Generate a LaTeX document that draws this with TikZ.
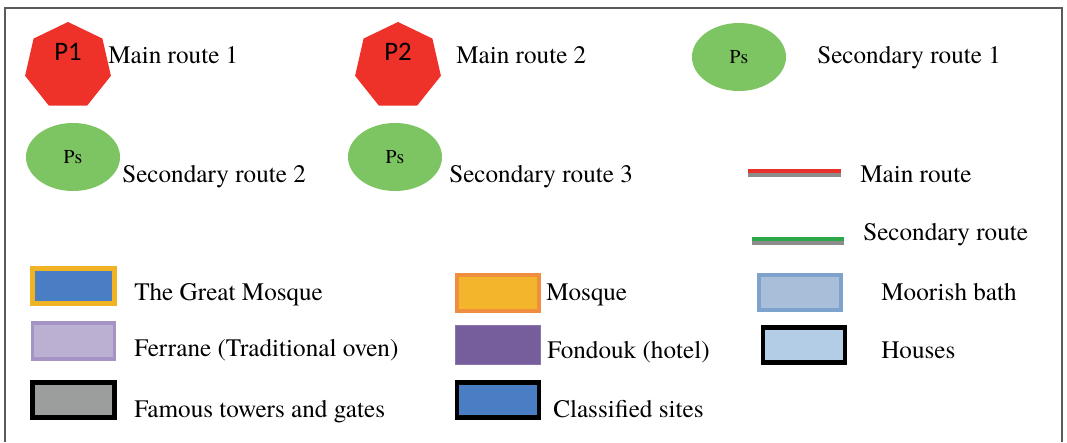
\documentclass[tikz,border=0pt]{standalone}
\usepackage{fontspec}
\setmainfont{TeX Gyre Termes}
\newfontfamily\calibrifont{Carlito}
\usepackage{xcolor}
\usetikzlibrary{shapes.geometric}
\definecolor{routered}{HTML}{EE3129}
\definecolor{psgreen}{HTML}{7DC462}
\definecolor{linered}{HTML}{E8312A}
\definecolor{linegreen}{HTML}{2BA84A}
\definecolor{shadowgray}{HTML}{8C8C8C}
\definecolor{framegray}{HTML}{5A5A5A}
\definecolor{greatblue}{HTML}{4A7EC4}
\definecolor{greatgold}{HTML}{F0B323}
\definecolor{ferranefill}{HTML}{BCB0D2}
\definecolor{ferraneline}{HTML}{A593C6}
\definecolor{towergray}{HTML}{9C9E9E}
\definecolor{mosquefill}{HTML}{F2B52C}
\definecolor{mosqueline}{HTML}{EE8E3E}
\definecolor{fondoukfill}{HTML}{765E9C}
\definecolor{fondoukline}{HTML}{8A75AD}
\definecolor{bathfill}{HTML}{A9BFD9}
\definecolor{bathline}{HTML}{7DA2CB}
\definecolor{housefill}{HTML}{B4CDE7}

\begin{document}
\begin{tikzpicture}[x=0.025cm, y=-0.025cm,
  legtext/.style={anchor=base west, inner sep=0pt, font=\fontsize{17.9}{20}\selectfont},
  heptagon/.style={regular polygon, regular polygon sides=7, fill=routered, minimum size=2.2cm, inner sep=0pt},
  plabel/.style={inner sep=0pt, font=\calibrifont\fontsize{19}{21}\selectfont},
  psnode/.style={ellipse, fill=psgreen, minimum width=2.35cm, minimum height=1.7cm, inner sep=0pt, font=\fontsize{14}{16}\selectfont},
  swatch/.style={rectangle, inner sep=0pt, minimum width=2.05cm, minimum height=0.88cm},
  routeline/.style={line width=2.9pt},
]
  \useasboundingbox (0,0) rectangle (1067,442);
  \draw[framegray, line width=1.4pt] (5,442) -- (5,8) -- (1062,8) -- (1062,442);
  \node[heptagon] (hept1) at (68,66) {};
  \node[plabel] (p1) at ([yshift=0.36cm]hept1.center) {P1};
  \node[legtext] (main1) at (108,63) {Main route 1};
  \node[heptagon] (hept2) at (398,66) {};
  \node[plabel] (p2) at ([yshift=0.36cm]hept2.center) {P2};
  \node[legtext] (main2) at (456,63) {Main route 2};
  \node[psnode] (ps1) at (739,57) {Ps};
  \node[legtext] (sec1) at (817,63) {Secondary route 1};
  \node[psnode] (ps2) at (73,157) {Ps};
  \node[legtext] (sec2) at (122,182) {Secondary route 2};
  \node[psnode] (ps3) at (395,157) {Ps};
  \node[legtext] (sec3) at (449,182) {Secondary route 3};
  \draw[routeline, shadowgray] (748,174.5) -- (841,174.5);
  \draw[routeline, linered] (748,171) -- (841,171);
  \node[legtext] (mainline) at (860,182) {Main route};
  \draw[routeline, shadowgray] (752,242.5) -- (844,242.5);
  \draw[routeline, linegreen] (752,239) -- (844,239);
  \node[legtext] (secline) at (863,240) {Secondary route};
  \node[swatch, fill=greatblue, draw=greatgold, line width=3.5pt] (great) at (73.5,286) {};
  \node[legtext] (greattext) at (134,300) {The Great Mosque};
  \node[swatch, fill=ferranefill, draw=ferraneline, line width=2.8pt] (ferrane) at (73.5,341) {};
  \node[legtext] (ferranetext) at (134,356) {Ferrane (Traditional oven)};
  \node[swatch, fill=towergray, draw=black, line width=3.5pt] (towers) at (73.5,400) {};
  \node[legtext] (towerstext) at (134,417) {Famous towers and gates};
  \node[swatch, fill=mosquefill, draw=mosqueline, line width=2.8pt] (mosque) at (498,293) {};
  \node[legtext] (mosquetext) at (546,300) {Mosque};
  \node[swatch, fill=fondoukfill, draw=fondoukline, line width=1pt, minimum width=2.12cm, minimum height=0.97cm] (fondouk) at (498,345) {};
  \node[legtext] (fondouktext) at (547,358) {Fondouk (hotel)};
  \node[swatch, fill=greatblue, draw=black, line width=3.5pt] (classified) at (498,400) {};
  \node[legtext] (classifiedtext) at (553,417) {Classified sites};
  \node[swatch, fill=bathfill, draw=bathline, line width=2.8pt] (bath) at (800,292.5) {};
  \node[legtext] (bathtext) at (881,300) {Moorish bath};
  \node[swatch, fill=housefill, draw=black, line width=3.5pt] (houses) at (804,345) {};
  \node[legtext] (housestext) at (881,358) {Houses};
\end{tikzpicture}
\end{document}
